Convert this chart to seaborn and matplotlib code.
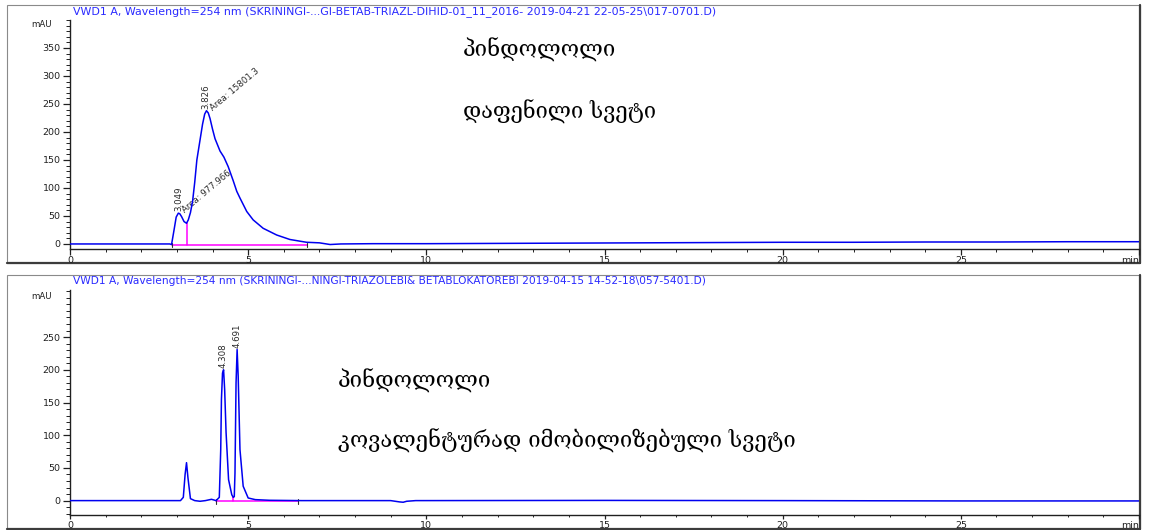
import matplotlib
matplotlib.use("Agg")
import matplotlib.pyplot as plt
import matplotlib.transforms as mtransforms
from matplotlib.patches import Rectangle
from matplotlib.lines import Line2D
from matplotlib.ticker import MultipleLocator
import pandas as pd
import seaborn as sns

# ---- Run 1: coated column (retention time in min, signal in mAU) ----
time_a = [0, 2.80, 2.85, 2.92, 2.98, 3.04, 3.08, 3.13, 3.20, 3.27, 3.32, 3.38,
          3.44, 3.50, 3.56, 3.65, 3.72, 3.78, 3.83, 3.88, 3.93, 4.00, 4.07,
          4.21, 4.32, 4.44, 4.58, 4.68, 4.77, 4.96, 5.14, 5.42, 5.80, 6.17,
          6.45, 6.64, 7.00, 7.30, 7.60, 8.50, 10, 12, 14, 16, 18, 20, 22, 24,
          26, 28, 30]
signal_a = [0, 0, -1, 25, 48, 55, 54, 49, 40, 37, 43, 56,
            76, 110, 150, 186, 214, 232, 238, 234, 224, 205, 188,
            166, 155, 138, 113, 94, 82, 58, 43, 28, 16, 8,
            5, 3, 2, -1, 0, 0.5, 0.5, 1, 1.5, 2, 2.5, 3, 3, 3.5,
            3.5, 4, 4]
peaks_a_rt = [3.049, 3.826]
peaks_a_height = [55, 238]
peaks_a_area = ["977.966", "15801.3"]
window_a = [2.85, 3.27, 6.64]          # start, split, end of integration

# ---- Run 2: covalently immobilised column ----
time_b = [0, 2.90, 3.10, 3.18, 3.23, 3.27, 3.31, 3.38, 3.50, 3.65, 3.80,
          3.97, 4.10, 4.19, 4.23, 4.25, 4.28, 4.31, 4.34, 4.38, 4.45, 4.54,
          4.58, 4.61, 4.63, 4.66, 4.69, 4.72, 4.77, 4.86, 5.00, 5.20, 5.60,
          6.50, 9.00, 9.25, 9.35, 9.45, 9.70, 15, 20, 25, 30]
signal_b = [0, 0, 0, 5, 40, 58, 35, 3, 0, -1, 0,
            2, 0, 5, 78, 155, 195, 200, 170, 104, 32, 9,
            5, 6, 42, 180, 231, 190, 78, 22, 4, 1.5, 0.5,
            0, 0, -2, -2.5, -1, 0, 0.3, 0, -0.5, -0.5]
peaks_b_rt = [4.308, 4.691]
peaks_b_height = [200, 231]
window_b = [4.11, 4.58, 6.41]

titles = [
    "VWD1 A, Wavelength=254 nm (SKRININGI-...GI-BETAB-TRIAZL-DIHID-01_11_2016- 2019-04-21 22-05-25\\017-0701.D)",
    "VWD1 A, Wavelength=254 nm (SKRININGI-...NINGI-TRIAZOLEBI& BETABLOKATOREBI 2019-04-15 14-52-18\\057-5401.D)",
]
notes_a = ["პინდოლოლი", "დაფენილი სვეტი"]
notes_b = ["პინდოლოლი", "კოვალენტურად იმობილიზებული სვეტი"]

sns.set_style("ticks")
plt.rcParams["font.family"] = ["DejaVu Sans"]

W, H = 1150, 530
fig = plt.figure(figsize=(W / 100, H / 100), dpi=100)


def axes_px(left, top, right, bottom):
    return fig.add_axes([left / W, 1 - bottom / H, (right - left) / W, (bottom - top) / H])


def panel_frame(left, top, right, bottom):
    fig.add_artist(Rectangle((left / W, 1 - bottom / H), (right - left) / W, (bottom - top) / H,
                             transform=fig.transFigure, fill=False, lw=0.8, ec="#8a8a8a", zorder=0))
    fig.add_artist(Line2D([right / W, right / W], [1 - bottom / H, 1 - top / H],
                          transform=fig.transFigure, lw=1.6, color="#3c3c3c", zorder=0))
    fig.add_artist(Line2D([left / W, right / W], [1 - bottom / H, 1 - bottom / H],
                          transform=fig.transFigure, lw=1.6, color="#3c3c3c", zorder=0))


panel_frame(7, 5, 1140, 263)
panel_frame(7, 275, 1140, 529)

ax1 = axes_px(70, 20, 1139, 249)
ax2 = axes_px(70, 290, 1139, 515)

BLUE = "#0000f0"
MAG = "#ff00ff"
TXT = "#2a2a2a"
AX = "#202020"


def style_axes(ax, ylim, ymajor, mau_y, xlen):
    ax.set_xlim(0, 30)
    ax.set_ylim(*ylim)
    for s in ("top", "right"):
        ax.spines[s].set_visible(False)
    for s in ("left", "bottom"):
        ax.spines[s].set_linewidth(1.0)
        ax.spines[s].set_color(AX)
    ax.set_xticks([0, 5, 10, 15, 20, 25, 30])
    ax.set_xticklabels(["0", "5", "10", "15", "20", "25", "min"])
    ax.get_xticklabels()[-1].set_horizontalalignment("right")
    ax.xaxis.set_minor_locator(MultipleLocator(1))
    ax.set_yticks(ymajor)
    ax.yaxis.set_minor_locator(MultipleLocator(10))
    ax.tick_params(axis="y", which="major", length=4.8, width=0.9, color=AX,
                   labelsize=6.8, labelcolor=AX, pad=2)
    ax.tick_params(axis="y", which="minor", length=2.8, width=0.7, color=AX)
    ax.tick_params(axis="x", which="major", length=xlen, width=0.9, color=AX,
                   labelsize=6.8, labelcolor=AX, pad=1.2)
    ax.tick_params(axis="x", which="minor", length=xlen * 0.55, width=0.7, color=AX)
    ax.set_xlabel("")
    ax.set_ylabel("")
    trans = mtransforms.blended_transform_factory(ax.transAxes, ax.transData)
    ax.text(-0.0165, mau_y, "mAU", transform=trans, ha="right", va="center",
            fontsize=6.2, color=AX)
    ax.patch.set_alpha(0)


df_a = pd.DataFrame({"time": time_a, "signal": signal_a})
df_b = pd.DataFrame({"time": time_b, "signal": signal_b})

# integration baselines and peak separators
for ax, win, base, tick in ((ax1, window_a, -2, 3), (ax2, window_b, -1, 3.5)):
    ax.plot([win[0], win[2]], [base, base], color=MAG, lw=1.1, zorder=2)
    for edge in (win[0], win[2]):
        ax.plot([edge, edge], [base - tick, base + tick], color="#303030", lw=0.8, zorder=3)

ax1.plot([window_a[1], window_a[1]], [-2, 37], color=MAG, lw=1.1, zorder=2)
ax2.plot([window_b[1], window_b[1]], [-1, 5], color=MAG, lw=1.1, zorder=2)

sns.lineplot(data=df_a, x="time", y="signal", ax=ax1, color=BLUE, lw=1.1,
             estimator=None, sort=False, zorder=4)
sns.lineplot(data=df_b, x="time", y="signal", ax=ax2, color=BLUE, lw=1.1,
             estimator=None, sort=False, zorder=4)

style_axes(ax1, (-9, 400), list(range(0, 351, 50)), 392, 4.0)
style_axes(ax2, (-22, 322), list(range(0, 251, 50)), 312, 3.0)

# peak labels
for rt, h, area in zip(peaks_a_rt, peaks_a_height, peaks_a_area):
    ax1.text(rt, h + 3, f"{rt:.3f}", rotation=90, ha="center", va="bottom",
             fontsize=6.2, color=TXT)
    ax1.text(rt + 0.14, h + 3, f"Area: {area}", rotation=40, rotation_mode="anchor",
             ha="left", va="center", fontsize=6.2, color=TXT)
for rt, h in zip(peaks_b_rt, peaks_b_height):
    ax2.text(rt, h + 3, f"{rt:.3f}", rotation=90, ha="center", va="bottom",
             fontsize=6.2, color=TXT)

# run headers
fig.text(73 / W, 1 - 12 / H, titles[0], ha="left", va="center", fontsize=7.9, color="#2a2aff")
fig.text(73 / W, 1 - 281 / H, titles[1], ha="left", va="center", fontsize=7.7, color="#2a2aff")

geo = ["DejaVu Serif", "DejaVu Sans"]
fig.text(463 / W, 1 - 50 / H, notes_a[0], ha="left", va="center", fontsize=16, family=geo, color="black")
fig.text(463 / W, 1 - 112 / H, notes_a[1], ha="left", va="center", fontsize=15.7, family=geo, color="black")
fig.text(338 / W, 1 - 381 / H, notes_b[0], ha="left", va="center", fontsize=16, family=geo, color="black")
fig.text(338 / W, 1 - 441 / H, notes_b[1], ha="left", va="center", fontsize=15.8, family=geo, color="black")

fig.savefig("out.png", dpi=100, facecolor="white")
